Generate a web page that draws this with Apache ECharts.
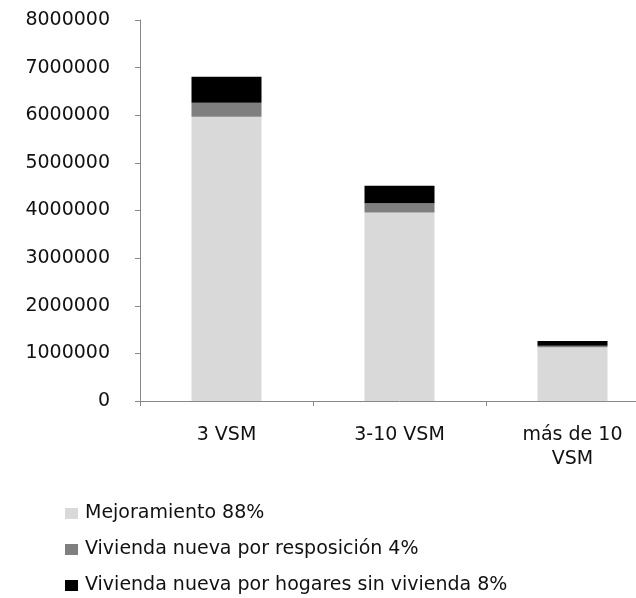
<!DOCTYPE html>
<html>
<head>
<meta charset="utf-8">
<script src="https://cdn.jsdelivr.net/npm/echarts@6/dist/echarts.min.js"></script>
<style>html,body{margin:0;padding:0;background:#fff;overflow:hidden;width:636px;height:598px;}#c{width:659px;height:640px;}</style>
</head>
<body>
<div id="c"></div>
<script>
const categories = ['3 VSM', '3-10 VSM', 'más de 10\nVSM'];
const mejoramiento = [5970000, 3960000, 1130000];
const reposicion = [290000, 190000, 30000];
const sinVivienda = [550000, 370000, 100000];
const seriesNames = ['Mejoramiento 88%', 'Vivienda nueva por resposición 4%', 'Vivienda nueva por hogares sin vivienda 8%'];
const yTicks = { min: 0, max: 8000000, interval: 1000000 };

const font = 'DejaVu Sans';
const chart = echarts.init(document.getElementById('c'), null, { renderer: 'canvas' });
const colors = ['#d9d9d9', '#7f7f7f', '#000000'];
const data = [mejoramiento, reposicion, sinVivienda];
chart.setOption({
  animation: false,
  color: colors,
  grid: { left: 140, top: 20, bottom: 239, right: 0, containLabel: false },
  legend: {
    orient: 'vertical', left: 60, top: 499,
    itemWidth: 13, itemHeight: 11, itemGap: 17,
    icon: 'rect',
    textStyle: { fontFamily: font, fontSize: 19, color: '#111', padding: [0, 0, 0, 2] },
    data: seriesNames
  },
  xAxis: {
    type: 'category', data: categories,
    axisLine: { lineStyle: { color: '#888', width: 1 } },
    axisTick: { show: true, length: 5, alignWithLabel: false, lineStyle: { color: '#888' } },
    axisLabel: { fontFamily: font, fontSize: 19, color: '#111', margin: 22, lineHeight: 24, interval: 0 }
  },
  yAxis: {
    type: 'value', min: yTicks.min, max: yTicks.max, interval: yTicks.interval,
    splitLine: { show: false },
    axisLine: { show: true, lineStyle: { color: '#888', width: 1 } },
    axisTick: { show: true, length: 5, lineStyle: { color: '#888' } },
    axisLabel: { fontFamily: font, fontSize: 19, color: '#111', margin: 30, formatter: v => String(v) }
  },
  series: seriesNames.map((n, i) => ({
    name: n, type: 'bar', stack: 'total', barWidth: 70,
    data: data[i], itemStyle: { color: colors[i] }
  }))
});
</script>
</body>
</html>
